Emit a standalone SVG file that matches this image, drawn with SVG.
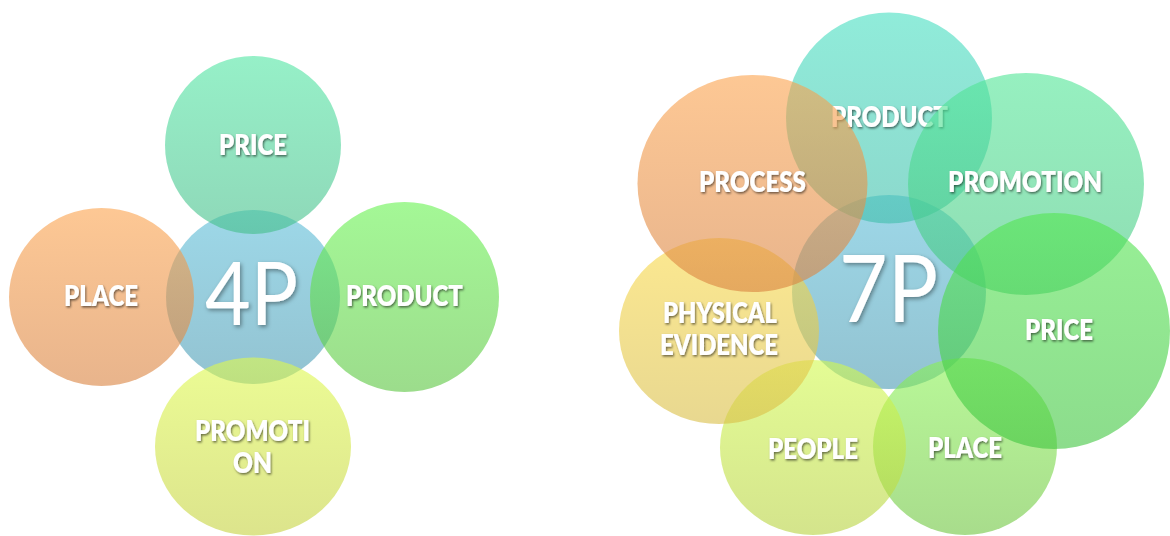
<svg xmlns="http://www.w3.org/2000/svg" width="1170" height="536" viewBox="0 0 1170 536">
  <defs>
    <filter id="shadow" x="-20%" y="-40%" width="140%" height="180%">
      <feDropShadow dx="1" dy="1.5" stdDeviation="1.3" flood-color="#000" flood-opacity="0.55"/>
    </filter>
    <filter id="shadowBig" x="-20%" y="-20%" width="140%" height="140%">
      <feDropShadow dx="1.5" dy="2" stdDeviation="2" flood-color="#000" flood-opacity="0.4"/>
    </filter>
    <!-- vertical fills: lighter at the top, deeper at the bottom -->
    <linearGradient id="gBlue" x1="0" y1="0" x2="0" y2="1"><stop offset="0" stop-color="#5CBED9"/><stop offset="1" stop-color="#4A9AB2"/></linearGradient>
    <linearGradient id="gMint" x1="0" y1="0" x2="0" y2="1"><stop offset="0" stop-color="#50E6A3"/><stop offset="1" stop-color="#43BE89"/></linearGradient>
    <linearGradient id="gOrange" x1="0" y1="0" x2="0" y2="1"><stop offset="0" stop-color="#FCA34D"/><stop offset="1" stop-color="#D9823F"/></linearGradient>
    <linearGradient id="gGreen" x1="0" y1="0" x2="0" y2="1"><stop offset="0" stop-color="#67F350"/><stop offset="1" stop-color="#5AC53F"/></linearGradient>
    <linearGradient id="gLime" x1="0" y1="0" x2="0" y2="1"><stop offset="0" stop-color="#DFFA4D"/><stop offset="1" stop-color="#C5D23F"/></linearGradient>
    <linearGradient id="gTeal" x1="0" y1="0" x2="0" y2="1"><stop offset="0" stop-color="#46DFC1"/><stop offset="1" stop-color="#3FBEAA"/></linearGradient>
    <linearGradient id="gSea" x1="0" y1="0" x2="0" y2="1"><stop offset="0" stop-color="#50E696"/><stop offset="1" stop-color="#43C57F"/></linearGradient>
    <linearGradient id="gGrass" x1="0" y1="0" x2="0" y2="1"><stop offset="0" stop-color="#53E650"/><stop offset="1" stop-color="#3FC53F"/></linearGradient>
    <linearGradient id="gYellow" x1="0" y1="0" x2="0" y2="1"><stop offset="0" stop-color="#FAD946"/><stop offset="1" stop-color="#D9BE46"/></linearGradient>
    <linearGradient id="gPear" x1="0" y1="0" x2="0" y2="1"><stop offset="0" stop-color="#D2FA4D"/><stop offset="1" stop-color="#B7D23F"/></linearGradient>
    <linearGradient id="gLeaf" x1="0" y1="0" x2="0" y2="1"><stop offset="0" stop-color="#89F353"/><stop offset="1" stop-color="#6EC53F"/></linearGradient>
    <style>
      .bub { fill-opacity: 0.6; }
      .lbl { font-family: Lato, "Open Sans", "Liberation Sans", sans-serif; font-weight: 800; font-size: 28px; fill: #fff; filter: url(#shadow); }
      .hub { font-family: Lato, "Open Sans", "Liberation Sans", sans-serif; font-weight: 400; fill: #fff; filter: url(#shadowBig); }
    </style>
  </defs>

  <rect width="1170" height="536" fill="#fff"/>

  <!-- ===== 4P ===== -->
  <g id="hub-4p">
    <ellipse class="bub" cx="253" cy="297" rx="87" ry="87" fill="url(#gBlue)"/>
  </g>
  <g id="p4-price">
    <ellipse class="bub" cx="253" cy="145" rx="88" ry="89" fill="url(#gMint)"/>
    <text class="lbl" x="219" y="155" textLength="68" lengthAdjust="spacingAndGlyphs">PRICE</text>
  </g>
  <g id="p4-place">
    <ellipse class="bub" cx="101.5" cy="297" rx="92.5" ry="89" fill="url(#gOrange)"/>
    <text class="lbl" x="64" y="306" textLength="74" lengthAdjust="spacingAndGlyphs">PLACE</text>
  </g>
  <g id="p4-product">
    <ellipse class="bub" cx="404.5" cy="297" rx="94.5" ry="95" fill="url(#gGreen)"/>
    <text class="lbl" x="346" y="306" textLength="117" lengthAdjust="spacingAndGlyphs">PRODUCT</text>
  </g>
  <g id="p4-promotion">
    <ellipse class="bub" cx="253" cy="446.5" rx="98" ry="89" fill="url(#gLime)"/>
    <text class="lbl" x="195" y="441" textLength="115" lengthAdjust="spacingAndGlyphs">PROMOTI</text>
    <text class="lbl" x="233" y="473" textLength="39" lengthAdjust="spacingAndGlyphs">ON</text>
  </g>
  <g id="hub-4p-title">
    <text class="hub" x="205" y="325" font-size="88" textLength="93" lengthAdjust="spacingAndGlyphs">4P</text>
  </g>

  <!-- ===== 7P ===== -->
  <g id="hub-7p">
    <ellipse class="bub" cx="889" cy="292" rx="97" ry="97" fill="url(#gBlue)"/>
  </g>
  <g id="p7-place">
    <ellipse class="bub" cx="965" cy="446.5" rx="92" ry="88.5" fill="url(#gLeaf)"/>
    <text class="lbl" x="928" y="458" textLength="74" lengthAdjust="spacingAndGlyphs">PLACE</text>
  </g>
  <g id="p7-people">
    <ellipse class="bub" cx="813" cy="447.5" rx="93" ry="87.5" fill="url(#gPear)"/>
    <text class="lbl" x="768" y="459" textLength="90" lengthAdjust="spacingAndGlyphs">PEOPLE</text>
  </g>
  <g id="p7-physical-evidence">
    <ellipse class="bub" cx="719" cy="331" rx="100" ry="93" fill="url(#gYellow)"/>
    <text class="lbl" x="663" y="323" textLength="114" lengthAdjust="spacingAndGlyphs">PHYSICAL</text>
    <text class="lbl" x="660" y="355" textLength="118" lengthAdjust="spacingAndGlyphs">EVIDENCE</text>
  </g>
  <g id="p7-product">
    <ellipse class="bub" cx="889" cy="118" rx="103" ry="105.5" fill="url(#gTeal)"/>
    <text class="lbl" x="831" y="127" textLength="117" lengthAdjust="spacingAndGlyphs">PRODUCT</text>
  </g>
  <g id="p7-process">
    <ellipse class="bub" cx="752.5" cy="183.5" rx="115" ry="108.5" fill="url(#gOrange)"/>
    <text class="lbl" x="699" y="192" textLength="107" lengthAdjust="spacingAndGlyphs">PROCESS</text>
  </g>
  <g id="p7-promotion">
    <ellipse class="bub" cx="1026" cy="184" rx="118" ry="111" fill="url(#gSea)"/>
    <text class="lbl" x="948" y="192" textLength="154" lengthAdjust="spacingAndGlyphs">PROMOTION</text>
  </g>
  <g id="p7-price">
    <ellipse class="bub" cx="1054" cy="331" rx="116" ry="118" fill="url(#gGrass)"/>
    <text class="lbl" x="1025" y="340" textLength="68" lengthAdjust="spacingAndGlyphs">PRICE</text>
  </g>
  <g id="hub-7p-title">
    <text class="hub" x="839" y="322" font-size="93" textLength="99" lengthAdjust="spacingAndGlyphs">7P</text>
  </g>
</svg>
